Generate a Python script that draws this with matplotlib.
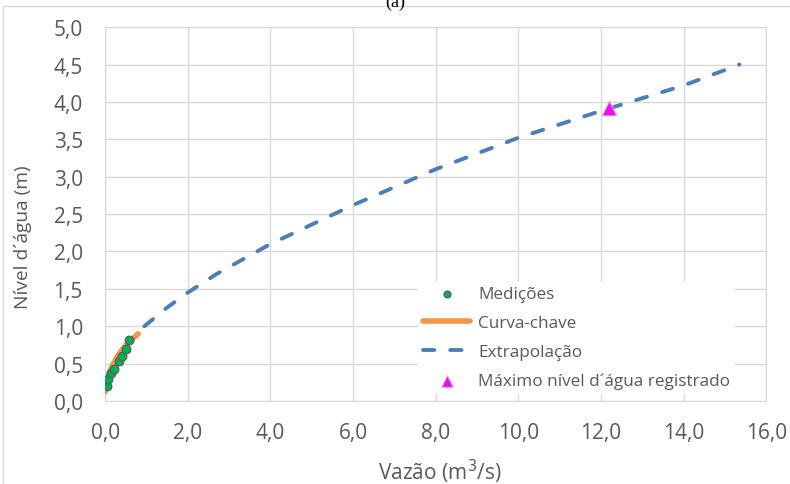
import numpy as np
import matplotlib.pyplot as plt
from matplotlib.patches import Rectangle

# measured points (discharge m3/s, water level m)
med_q = [0.04, 0.07, 0.15, 0.21, 0.33, 0.40, 0.50, 0.59]
med_h = [0.20, 0.30, 0.38, 0.43, 0.54, 0.60, 0.69, 0.81]

# rating curve (curva-chave)
cc_q = [0.00, 0.02, 0.06, 0.12, 0.20, 0.30, 0.43, 0.60, 0.80]
cc_h = [0.12, 0.20, 0.30, 0.40, 0.50, 0.60, 0.70, 0.80, 0.90]

# extrapolation
ex_q = [0.95, 1.5, 2.0, 2.7, 4.0, 6.0, 8.0, 10.0, 12.0, 14.0, 15.35]
ex_h = [1.00, 1.25, 1.45, 1.70, 2.10, 2.62, 3.10, 3.52, 3.88, 4.22, 4.50]

# maximum recorded level
max_q = [12.2]
max_h = [3.92]

xticks = [0, 2, 4, 6, 8, 10, 12, 14, 16]
yticks = [0, 0.5, 1.0, 1.5, 2.0, 2.5, 3.0, 3.5, 4.0, 4.5, 5.0]

txt = "#595959"
grid = "#d9d9d9"
plt.rcParams["font.family"] = ["Open Sans", "DejaVu Sans"]

fig = plt.figure(figsize=(7.9, 4.85), dpi=100)
ax = fig.add_axes([0.133, 0.171, 0.837, 0.771])

fig.patches.append(Rectangle((0.004, -0.1), 1.2, 1.0856, transform=fig.transFigure,
                             fill=False, edgecolor=grid, linewidth=1.0))
fig.text(0.5, 0.986, "(a)", ha="center", va="baseline", fontsize=13,
         family="Liberation Serif", color="black")

ax.plot(ex_q, ex_h, color="#4a7ebb", lw=2.8, dashes=(2.9, 4.1), dash_capstyle="round",
        label="Extrapolação", zorder=3)
ax.plot(cc_q, cc_h, color="#f79646", lw=4, solid_capstyle="round", label="Curva-chave", zorder=3)
ax.scatter(med_q, med_h, s=40, color="#00b050", edgecolor="#595959", linewidth=0.8,
           label="Medições", zorder=4)
ax.scatter(max_q, max_h, s=110, marker="^", color="#ff00ff", edgecolor="#bfbfbf",
           linewidth=0.8, label="Máximo nível d´água registrado", zorder=5)

ax.set_xlim(0, 16)
ax.set_ylim(0, 5)
ax.set_xticks(xticks)
ax.set_yticks(yticks)
ax.set_xticklabels([f"{v:.1f}".replace(".", ",") for v in xticks])
ax.set_yticklabels([f"{v:.1f}".replace(".", ",") for v in yticks])
ax.tick_params(length=0, labelsize=15, colors=txt)
ax.tick_params(axis="x", pad=15)
ax.tick_params(axis="y", pad=16)
ax.grid(True, color=grid, lw=1)
ax.set_axisbelow(True)
for s in ax.spines.values():
    s.set_color(grid)

ax.set_xlabel("Vazão (m$^3$/s)", fontsize=15, color=txt)
ax.xaxis.set_label_coords(0.507, -0.148)

# y label sits a bit below the axes centre, as in the original
fig.text(0.029, 1 - 237 / 485, "Nível d´água (m)", rotation=90, ha="center",
         va="center", fontsize=13.8, color=txt)

h, l = ax.get_legend_handles_labels()
order = [2, 1, 0, 3]
leg = ax.legend([h[i] for i in order], [l[i] for i in order], loc="lower right",
                bbox_to_anchor=(0.966, -0.005), fontsize=12.3, frameon=True,
                facecolor="white", edgecolor="none", framealpha=1, borderpad=0.3,
                handlelength=2.75, handletextpad=0.45, labelspacing=0.75, markerscale=0.8)
for t in leg.get_texts():
    t.set_color(txt)

fig.savefig("out.png", dpi=100)
